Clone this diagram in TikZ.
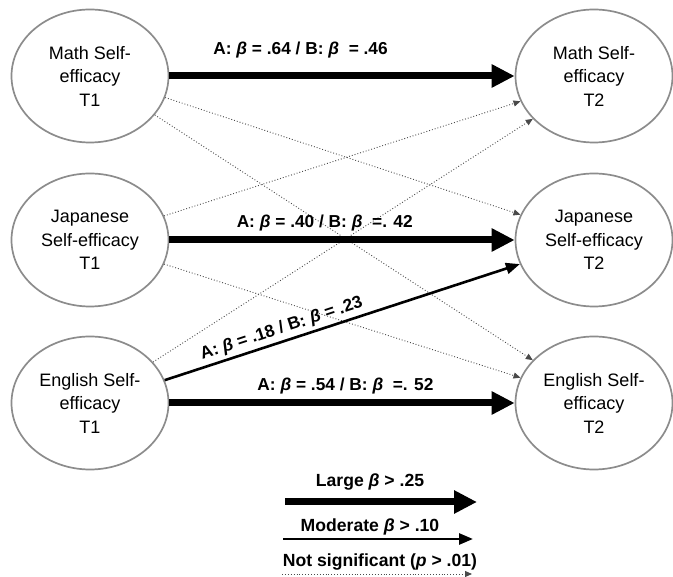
\documentclass[tikz,border=0pt]{standalone}
\usepackage{fontspec}
\setmainfont{Liberation Sans}
\usetikzlibrary{shapes.geometric,arrows.meta}
\definecolor{circgray}{HTML}{8C8C8C}
\definecolor{dotgray}{HTML}{4A4A4A}
\begin{document}
\begin{tikzpicture}[x=1pt,y=-1pt,
  var/.style={ellipse, draw=circgray, line width=1.7pt, minimum width=157pt, minimum height=133pt,
    inner sep=0pt, align=center, font=\fontsize{18}{23.5}\selectfont},
  large/.style={line width=7pt, -{Triangle[length=23pt,width=22pt]}},
  moderate/.style={line width=2.6pt, -{Triangle[length=14pt,width=11pt]}},
  ns/.style={line width=0.9pt, dotted, draw=dotgray, -{Triangle[length=7pt,width=6pt]}},
  lab/.style={font=\bfseries\fontsize{17.3}{19}\selectfont, inner sep=1pt},
  leg/.style={font=\bfseries\fontsize{17.6}{19}\selectfont, inner sep=1pt}
]
\useasboundingbox (0,0) rectangle (673,577);

\node[var] (m1) at (90,76) {Math Self-\\efficacy\\T1};
\node[var] (j1) at (90,240) {Japanese\\Self-efficacy\\T1};
\node[var] (e1) at (90,403) {English Self-\\efficacy\\T1};
\node[var] (m2) at (594,76) {Math Self-\\efficacy\\T2};
\node[var] (j2) at (594,240) {Japanese\\Self-efficacy\\T2};
\node[var] (e2) at (594,403) {English Self-\\efficacy\\T2};

% not significant paths
\draw[ns] (m1.-16) -- (j2.161);
\draw[ns] (m1.-31) -- (e2.145);
\draw[ns] (j1.18) -- (m2.199);
\draw[ns] (j1.-18) -- (e2.161);
\draw[ns] (e1.33) -- (m2.215);

% large paths
\draw[large] (m1.east) -- (m2.west)
  node[lab, pos=0.38, yshift=26pt] {A: \textit{β} = .64 / B: \textit{β}~ = .46};
\draw[large] (j1.east) -- (j2.west)
  node[lab, pos=0.45, yshift=17pt] {A: \textit{β} = .40 / B: \textit{β}~ =. 42};
\draw[large] (e1.east) -- (e2.west)
  node[lab, pos=0.51, yshift=17pt] {A: \textit{β} = .54 / B: \textit{β}~ =. 52};

% moderate path
\draw[moderate] (e1.17) -- (j2.198)
  node[lab, sloped, pos=0.34, above=2pt] {A: \textit{β} = .18 / B: \textit{β} = .23};

% legend
\node[leg] (lg1) at (370,482) {Large \textit{β} > .25};
\coordinate (l1a) at (285,502);
\coordinate (l1b) at (477,502);
\draw[large] (l1a) -- (l1b);
\node[leg] (lg2) at (370,527) {Moderate \textit{β} > .10};
\coordinate (l2a) at (283,539);
\coordinate (l2b) at (473,539);
\draw[moderate] (l2a) -- (l2b);
\node[leg] (lg3) at (380,562) {Not significant (\textit{p} > .01)};
\coordinate (l3a) at (282,574);
\coordinate (l3b) at (472,574);
\draw[ns] (l3a) -- (l3b);
\end{tikzpicture}
\end{document}
